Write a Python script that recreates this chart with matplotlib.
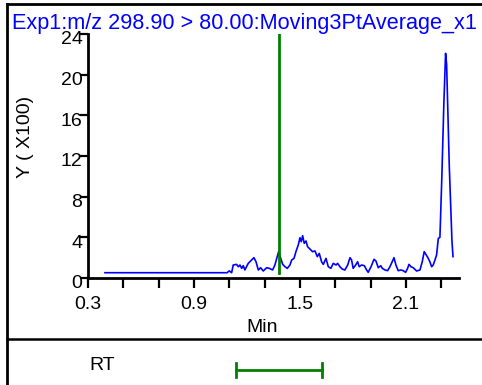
import numpy as np
import matplotlib
matplotlib.use('Agg')
import matplotlib.pyplot as plt
from matplotlib.lines import Line2D
from matplotlib.transforms import ScaledTranslation

plt.rcParams['font.family'] = ['Liberation Sans', 'DejaVu Sans']

# chromatogram trace (min, intensity x100)
rt_min = [0.396, 1.087, 1.100, 1.113, 1.122, 1.141, 1.151, 1.160, 1.170, 1.179, 1.188,
          1.207, 1.226, 1.239, 1.251, 1.264, 1.277, 1.292, 1.311, 1.326, 1.345,
          1.358, 1.371, 1.379, 1.391, 1.402, 1.415, 1.428, 1.443, 1.453, 1.466,
          1.477, 1.490, 1.500, 1.507, 1.515, 1.524, 1.534, 1.543, 1.556, 1.571,
          1.585, 1.598, 1.609, 1.622, 1.632, 1.647, 1.660, 1.675, 1.688, 1.704,
          1.713, 1.726, 1.739, 1.754, 1.770, 1.783, 1.792, 1.801, 1.815, 1.826,
          1.835, 1.849, 1.864, 1.877, 1.886, 1.902, 1.919, 1.930, 1.943, 1.957,
          1.966, 1.981, 1.996, 2.009, 2.022, 2.032, 2.043, 2.056, 2.071, 2.084,
          2.098, 2.109, 2.117, 2.128, 2.141, 2.160, 2.179, 2.192, 2.203, 2.217,
          2.226, 2.235, 2.245, 2.254, 2.264, 2.273, 2.283, 2.292, 2.303, 2.314,
          2.324, 2.330, 2.345, 2.360, 2.366]
intensity = [0.52, 0.52, 0.70, 0.52, 1.28, 1.34, 1.11, 1.28, 0.95, 1.21, 0.79,
             1.44, 1.77, 2.00, 1.60, 0.79, 1.01, 0.69, 1.01, 0.95, 0.79,
             1.28, 2.10, 2.59, 1.93, 1.34, 1.11, 0.95, 1.28, 1.77, 1.93,
             2.59, 3.24, 3.96, 3.57, 4.16, 3.41, 3.64, 3.08, 2.85, 2.59,
             2.66, 2.10, 2.42, 1.60, 1.34, 1.93, 1.11, 0.95, 1.44, 1.28,
             1.44, 1.11, 0.88, 0.79, 1.28, 2.00, 1.77, 0.95, 1.28, 1.60,
             1.11, 1.28, 1.21, 0.79, 0.56, 1.11, 1.84, 1.67, 1.01, 1.21,
             0.95, 0.79, 0.72, 1.11, 1.60, 2.00, 1.28, 0.72, 0.79, 0.72,
             0.56, 0.95, 1.34, 1.11, 1.01, 0.69, 0.79, 1.60, 2.59, 2.20,
             1.93, 1.60, 1.11, 1.28, 1.77, 2.26, 3.90, 4.00, 10.0, 17.0,
             22.1, 21.0, 11.0, 3.7, 2.10]

expected_rt = 1.381
rt_window = (1.138, 1.624)
title = 'Exp1:m/z 298.90 > 80.00:Moving3PtAverage_x1'

W, H = 482, 385
fig = plt.figure(figsize=(W / 100, H / 100), dpi=100)

def px(x, y):
    return x / W, 1 - y / H

# frame
for (x0, y0), (x1, y1), lw in [((7, 4), (482, 4), 2.0), ((7, 4), (7, 385), 2.0),
                                 ((7, 339), (482, 339), 1.8)]:
    a, b = px(x0, y0)
    c, d = px(x1, y1)
    fig.add_artist(Line2D([a, c], [b, d], color='black', lw=lw, transform=fig.transFigure))

l, b = px(88, 278)
r, t = px(459, 34)
ax = fig.add_axes([l, b, r - l, t - b])
ax.plot(rt_min, intensity, color='#0000ff', lw=1.2)
ax.plot([expected_rt, expected_rt], [0.5, 24], color='#008000', lw=2.0)

ax.set_xlim(0.3, 2.4)
ax.set_ylim(0, 24)
ax.set_xticks(np.arange(0.3, 2.35, 0.2))
ax.set_xticklabels(['0.3', '', '', '0.9', '', '', '1.5', '', '', '2.1', ''])
ax.set_yticks([0, 4, 8, 12, 16, 20, 24])
ax.set_yticklabels(['0', '4', '8', '12', '16', '20', '24'])
for s in ['top', 'right']:
    ax.spines[s].set_visible(False)
for s in ['left', 'bottom']:
    ax.spines[s].set_linewidth(2.0)
ax.tick_params(axis='x', length=7, width=1.6, labelsize=14, pad=6)
ax.tick_params(axis='y', length=6, width=1.6, labelsize=14, pad=-2)
off = ScaledTranslation(0, -4 / 100, fig.dpi_scale_trans)
for lbl in ax.get_yticklabels():
    lbl.set_transform(lbl.get_transform() + off)

x, y = px(12, 23)
fig.text(x, y, title, color='#0000ff', fontsize=15.6, ha='left', va='center')
x, y = px(262, 328)
fig.text(x, y, 'Min', fontsize=14, ha='center', va='center')
x, y = px(25, 137)
fig.text(x, y, 'Y ( X100)', fontsize=14, ha='center', va='center', rotation=90)
x, y = px(102, 365)
fig.text(x, y, 'RT', fontsize=14, ha='center', va='center')

# RT window bar
l2, b2 = px(88, 385)
r2, t2 = px(459, 345)
ax2 = fig.add_axes([l2, b2, r2 - l2, t2 - b2])
ax2.set_xlim(0.3, 2.4)
ax2.set_ylim(0, 1)
ax2.axis('off')
ax2.plot(rt_window, [0.375, 0.375], color='#008000', lw=2.0)
for xv in rt_window:
    ax2.plot([xv, xv], [0.2, 0.55], color='#008000', lw=2.0)

fig.savefig('out.png', dpi=100)
